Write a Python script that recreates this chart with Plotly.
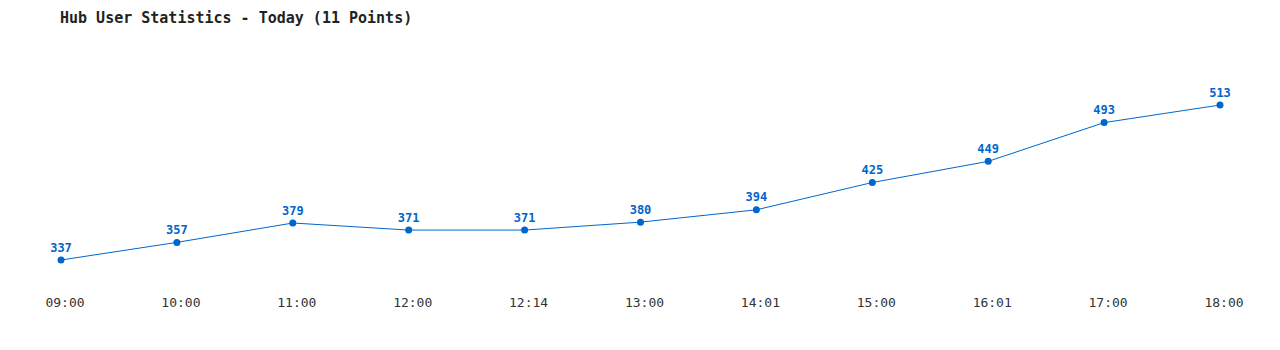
import plotly.graph_objects as go

times = ["09:00", "10:00", "11:00", "12:00", "12:14", "13:00", "14:01", "15:00", "16:01", "17:00", "18:00"]
users = [337, 357, 379, 371, 371, 380, 394, 425, 449, 493, 513]

idx = list(range(len(times)))
color = "#0066cc"

fig = go.Figure(go.Scatter(
    x=idx, y=users,
    mode="lines+markers+text",
    line=dict(color=color, width=1),
    marker=dict(color=color, size=7),
    text=[str(v) for v in users],
    textposition="top center",
    textfont=dict(family="DejaVu Sans Mono", size=12, color=color, weight="bold"),
    cliponaxis=False,
    hoverinfo="skip",
))

fig.update_layout(
    width=1280, height=350,
    margin=dict(l=61, r=60, t=40, b=60),
    paper_bgcolor="white", plot_bgcolor="white",
    showlegend=False,
    title=dict(
        text="Hub User Statistics - Today (11 Points)",
        x=60 / 1280, xanchor="left", xref="container",
        y=1 - 18 / 350, yanchor="middle", yref="container",
        font=dict(family="DejaVu Sans Mono", size=15, color="#222222", weight="bold"),
    ),
    xaxis=dict(
        range=[0, 10], tickmode="array", tickvals=idx, ticktext=times,
        showgrid=False, zeroline=False, showline=False, ticks="",
        tickfont=dict(family="DejaVu Sans Mono", size=13, color="#333333"),
        ticklabelshift=4, ticklabelstandoff=3,
    ),
    yaxis=dict(
        range=[302.94, 586.8], showgrid=False, zeroline=False, showline=False,
        showticklabels=False, ticks="",
    ),
)

fig.write_html("out.html")
